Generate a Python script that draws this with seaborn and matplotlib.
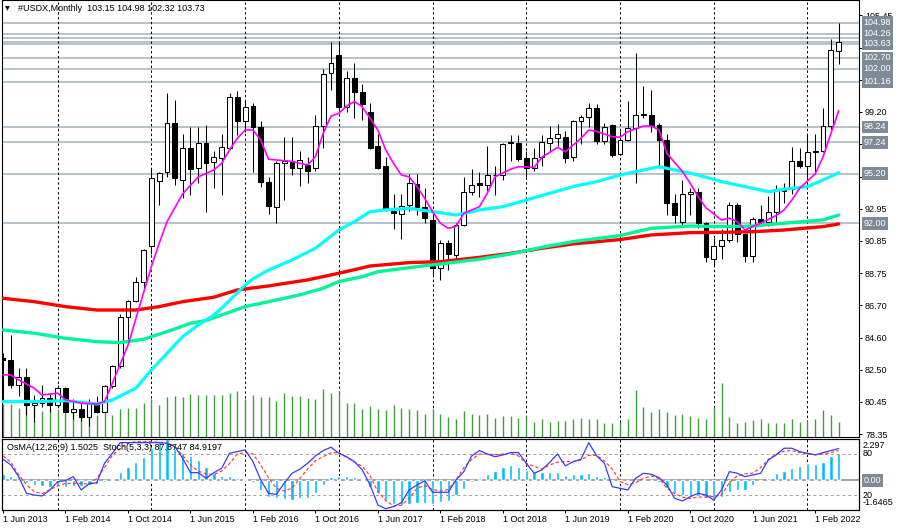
import matplotlib
matplotlib.use("Agg")
import matplotlib.pyplot as plt
import numpy as np
import seaborn as sns

# #USDX monthly bars, Jun 2013 .. May 2022 (one value per month)
opens = [83.30, 83.15, 81.50, 82.05, 80.25, 80.35, 80.70, 80.20, 81.30, 79.80,
         80.00, 79.45, 80.35, 79.80, 81.45, 82.75, 85.90, 86.95, 88.20, 90.50,
         94.75, 95.30, 98.50, 94.80, 96.90, 95.60, 97.20, 95.95, 96.20, 96.90,
         100.20, 98.60, 99.60, 98.25, 94.70, 93.05, 95.90, 96.00, 95.60, 95.75,
         95.60, 98.30, 101.70, 102.90, 99.50, 101.40, 100.50, 99.20, 97.00, 95.70,
         92.80, 92.60, 93.20, 94.55, 93.05, 92.20, 89.10, 90.70, 89.95, 91.90,
         94.00, 94.60, 94.50, 95.10, 95.10, 97.20, 97.20, 96.25, 95.60, 96.30,
         97.20, 97.50, 97.60, 96.30, 98.60, 98.90, 99.45, 97.30, 98.35, 96.50,
         97.40, 98.15, 99.00, 99.00, 98.35, 97.40, 93.30, 92.10, 93.90, 94.05,
         92.00, 89.70, 90.50, 90.90, 93.20, 91.30, 89.85, 92.30, 92.10, 92.70,
         94.10, 94.20, 96.00, 95.70, 96.60, 96.70, 98.30, 103.15]
highs = [83.60, 84.75, 82.60, 82.60, 80.90, 81.50, 81.00, 81.50, 81.40, 80.60,
         80.40, 80.60, 80.80, 81.50, 82.80, 86.10, 87.00, 88.50, 90.30, 95.50,
         95.30, 100.40, 100.00, 97.80, 98.20, 98.20, 98.35, 96.70, 97.80, 100.40,
         100.55, 99.90, 99.80, 98.60, 95.00, 96.00, 97.60, 97.60, 96.70, 96.30,
         99.00, 102.00, 103.70, 103.80, 101.85, 102.40, 101.00, 99.80, 97.80, 96.30,
         93.90, 93.90, 95.20, 95.20, 94.30, 92.70, 90.90, 90.90, 92.00, 95.00,
         95.50, 95.30, 97.00, 95.70, 97.20, 97.70, 97.70, 96.70, 96.90, 97.70,
         98.30, 98.40, 98.00, 98.70, 99.00, 99.80, 99.70, 98.50, 98.40, 98.00,
         99.90, 103.00, 100.90, 100.60, 98.50, 97.80, 93.90, 94.80, 94.30, 94.30,
         92.10, 91.05, 91.60, 93.40, 93.30, 91.40, 92.40, 93.20, 93.75, 94.50,
         94.60, 96.95, 96.90, 97.70, 97.80, 99.45, 103.95, 104.98]
lows = [80.50, 81.30, 80.80, 79.60, 79.10, 80.10, 79.80, 80.10, 79.70, 79.30,
        79.20, 78.90, 79.70, 79.70, 81.30, 82.60, 84.50, 86.90, 87.60, 90.00,
        93.20, 95.00, 94.50, 93.60, 93.80, 94.60, 92.70, 94.30, 93.80, 96.80,
        97.70, 97.90, 95.30, 94.35, 92.60, 92.00, 93.50, 95.10, 94.40, 94.60,
        95.40, 96.90, 100.60, 99.40, 99.20, 98.80, 98.70, 96.80, 95.50, 92.80,
        91.60, 91.00, 92.80, 92.50, 92.00, 88.50, 88.30, 89.00, 89.60, 91.80,
        93.80, 93.70, 94.10, 93.80, 94.80, 96.00, 96.00, 95.00, 95.40, 95.70,
        96.70, 97.00, 95.90, 96.00, 97.10, 98.20, 97.10, 97.10, 96.30, 96.40,
        97.30, 94.60, 98.80, 97.90, 95.60, 92.50, 92.00, 91.80, 92.50, 91.70,
        89.50, 89.20, 89.70, 90.80, 90.80, 89.50, 89.50, 91.80, 91.80, 92.00,
        93.30, 93.90, 95.60, 95.00, 95.20, 96.60, 98.10, 102.32]
closes = [83.15, 81.50, 82.05, 80.25, 80.35, 80.70, 80.20, 81.30, 79.80, 80.00,
          79.45, 80.35, 79.80, 81.45, 82.75, 85.90, 86.95, 88.20, 90.25, 94.90,
          95.25, 98.50, 94.90, 96.90, 95.50, 97.20, 95.90, 96.30, 96.95, 100.20,
          98.60, 99.55, 98.20, 94.70, 93.10, 95.90, 96.00, 95.60, 96.10, 95.40,
          98.30, 101.65, 102.40, 99.50, 101.40, 100.50, 99.70, 96.90, 95.60, 92.90,
          92.65, 93.10, 94.60, 93.05, 92.35, 89.10, 90.70, 90.00, 91.90, 94.00,
          94.50, 94.50, 95.10, 95.10, 97.15, 97.25, 96.15, 95.60, 96.20, 97.25,
          97.50, 97.80, 96.20, 98.60, 98.90, 99.45, 97.30, 98.25, 96.40, 97.40,
          98.15, 99.00, 99.05, 98.30, 97.40, 93.30, 92.50, 93.90, 94.00, 92.00,
          89.80, 90.50, 90.90, 93.20, 91.30, 89.90, 92.30, 92.10, 92.70, 94.20,
          94.15, 96.00, 95.70, 96.60, 96.70, 98.30, 103.20, 103.73]
# tick volume
volumes = [327, 327, 293, 343, 303, 260, 277, 277, 243, 277,
           217, 217, 217, 243, 217, 277, 293, 293, 337, 377,
           317, 403, 410, 403, 427, 417, 417, 417, 417, 443,
           460, 377, 417, 403, 403, 360, 437, 410, 410, 393,
           383, 477, 443, 450, 343, 343, 277, 310, 283, 270,
           317, 290, 277, 270, 227, 277, 227, 200, 177, 260,
           227, 217, 227, 193, 210, 210, 190, 210, 153, 177,
           153, 160, 160, 183, 193, 177, 183, 143, 143, 150,
           177, 467, 300, 250, 277, 250, 217, 227, 210, 193,
           183, 303, 537, 200, 143, 153, 167, 177, 137, 137,
           137, 177, 153, 160, 183, 270, 220, 153]

# moving averages (bar index, value)
ma_fast_bar = [0, 1, 2, 4, 5, 7, 8, 10, 12, 13, 14, 16, 17, 18, 19, 20, 21, 23, 25, 27,
               28, 29, 30, 31, 32, 33, 34, 36, 37, 39, 40, 41, 42, 43, 44, 45, 46, 47, 48, 49,
               50, 51, 52, 53, 54, 55, 56, 57, 58, 59, 61, 62, 63, 65, 66, 68, 69, 71, 72, 73,
               74, 75, 76, 78, 79, 80, 82, 83, 84, 85, 87, 88, 89, 90, 92, 93, 94, 95, 96, 97,
               99, 100, 101, 102, 104, 105, 106, 107]
ma_fast = [82.18, 82.18, 81.85, 81.32, 80.88, 81.0, 80.56, 80.35, 80.3, 80.45,
           81.64, 84.1, 85.8, 87.5, 89.2, 90.7, 92.1, 93.9, 95.0, 95.45,
           95.88, 96.74, 97.5, 98.03, 98.03, 97.39, 96.14, 96.05, 96.0, 95.77,
           96.3, 97.82, 98.94, 99.11, 99.6, 99.87, 99.54, 98.79, 98.03, 96.74,
           95.88, 95.12, 95.0, 94.37, 93.6, 92.75, 92.0, 91.67, 91.8, 92.64,
           93.07, 93.94, 95.0, 95.5, 95.66, 95.62, 96.27, 96.91, 96.63, 97.06,
           97.5, 98.03, 97.95, 97.6, 97.56, 97.93, 98.29, 98.29, 98.03, 96.52,
           95.34, 94.58, 93.72, 93.0, 92.21, 92.32, 92.1, 91.56, 91.78, 92.0,
           92.5, 92.86, 93.5, 94.26, 95.2, 96.3, 97.8, 99.28]
ma_mid_bar = [0, 4, 8, 12, 14, 17, 19, 21, 23, 25, 27, 28, 31, 32, 34, 37, 40, 43, 45, 47,
              49, 52, 55, 58, 61, 64, 67, 70, 73, 76, 79, 81, 84, 86, 89, 92, 95, 98, 100, 103,
              105, 107]
ma_mid = [80.45, 80.45, 80.51, 80.3, 80.56, 81.32, 82.5, 83.58, 84.66, 85.41,
          86.06, 86.5, 88.0, 88.4, 88.97, 89.62, 90.38, 91.56, 92.1, 92.75,
          92.86, 92.96, 92.75, 92.53, 92.86, 93.07, 93.5, 93.94, 94.37, 94.69,
          95.12, 95.34, 95.66, 95.45, 95.12, 94.69, 94.37, 94.04, 94.2, 94.37,
          94.8, 95.27]
ma_long_bar = [0, 4, 8, 12, 15, 18, 21, 24, 26, 28, 31, 34, 38, 41, 43, 46, 48, 53, 56, 61,
               65, 69, 73, 79, 83, 88, 92, 96, 100, 105, 107]
ma_long = [85.09, 84.88, 84.55, 84.33, 84.27, 84.49, 84.98, 85.52, 85.7, 86.06,
           86.6, 86.92, 87.36, 87.79, 88.22, 88.54, 88.86, 89.19, 89.36, 89.67,
           90.01, 90.44, 90.81, 91.2, 91.67, 91.82, 91.78, 91.82, 92.0, 92.21,
           92.53]
ma_slow_bar = [0, 4, 8, 12, 17, 20, 23, 27, 30, 34, 39, 43, 47, 52, 56, 61, 65, 69, 73, 79,
               83, 88, 92, 96, 100, 105, 107]
ma_slow = [87.14, 86.92, 86.6, 86.38, 86.38, 86.6, 86.92, 87.21, 87.68, 87.94,
           88.33, 88.76, 89.23, 89.45, 89.51, 89.79, 90.05, 90.38, 90.66, 90.94,
           91.24, 91.39, 91.41, 91.45, 91.56, 91.78, 91.95]

# OsMA(12,26,9) and Stochastic(5,3,3), one value per bar
osma = [0.38, 0.26, 0.19, -0.15, -0.24, -0.34, -0.38, -0.34, -0.38, -0.34,
        -0.30, -0.24, -0.19, -0.11, 0.075, 0.47, 0.75, 1.02, 1.30, 1.80,
        2.15, 2.297, 1.73, 1.54, 1.35, 1.13, 0.75, 0.41, 0.26, 0.23,
        0.13, 0.075, -0.11, -0.53, -0.90, -1.00, -1.05, -1.09, -1.00, -1.00,
        -0.68, -0.24, 0.19, 0.26, 0.26, 0.19, 0.075, -0.38, -0.71, -1.09,
        -1.32, -1.37, -1.32, -1.24, -1.24, -1.32, -1.18, -1.13, -0.81, -0.47,
        -0.11, 0.13, 0.36, 0.51, 0.75, 0.83, 0.75, 0.60, 0.47, 0.47,
        0.47, 0.47, 0.32, 0.36, 0.38, 0.41, 0.23, 0.19, 0.02, -0.06,
        0.04, 0.03, 0.075, 0.03, -0.11, -0.43, -0.71, -0.81, -0.86, -0.81,
        -1.00, -1.05, -0.90, -0.62, -0.53, -0.53, -0.24, -0.06, 0.13, 0.41,
        0.51, 0.70, 0.79, 0.98, 0.92, 1.02, 1.35, 1.5025]
stoch_main = [72.3, 64, 46.9, 22.5, 20, 18.6, 27.4, 39.5, 41, 46.9,
              27.4, 36.2, 38, 66.5, 81, 96.6, 96.6, 96.6, 96.6, 96.6,
              96.6, 95.7, 90.8, 73.8, 52.7, 52.7, 44.5, 52.7, 59.1, 81,
              83.5, 86, 68.8, 42, 22.5, 21, 37.2, 51.8, 57.7, 66.5,
              77.2, 85, 89.9, 81, 76, 68.8, 56.7, 34.7, 5.4, 0,
              3, 8.8, 27.4, 34.7, 41, 24, 24, 24, 42, 54.2,
              77.2, 85, 80, 76, 78.6, 82, 82, 66.5, 51.8, 56.7,
              67.9, 80, 62.5, 68.8, 72.3, 96.6, 77.2, 66.5, 32.2, 29.8,
              27.4, 44.5, 51.8, 50.3, 45.4, 34.7, 15.2, 11.3, 17.6, 22.5,
              20, 12.7, 27.4, 54.2, 51.8, 46.9, 49.3, 51.8, 71.3, 78.6,
              88.4, 88.4, 83.5, 81, 78.6, 82, 85, 87.87]
stoch_signal = [77, 68, 50, 35, 25, 22, 28, 33, 37, 37,
                37, 36, 44, 60, 78, 88, 96, 98, 98, 98,
                97, 95, 91, 78, 64, 55, 51, 50, 55, 66,
                80, 82, 80, 64, 45, 30, 26, 30, 44, 58,
                70, 76, 82, 82, 75, 68, 62, 48, 25, 12,
                4, 5, 15, 30, 34, 28, 26, 28, 42, 60,
                72, 80, 80, 79, 80, 81, 77, 66, 62, 58,
                64, 68, 69, 69, 71, 78, 78, 70, 58, 40,
                35, 38, 44, 48, 44, 30, 22, 17, 15, 17,
                17, 18, 20, 38, 48, 51, 52, 60, 72, 80,
                84, 85, 82, 80, 79, 80, 82, 84.92]

# horizontal levels drawn on the chart
level_labeled = [104.98, 104.26, 103.63, 102.70, 102.00, 101.16, 98.24, 97.24, 95.20, 92.00]
level_plain = [104.00, 103.73]

# price scale; the ticks under the level boxes keep their mark but no text
price_ticks = [78.35, 80.45, 82.50, 84.60, 86.70, 88.75, 90.85, 92.95, 95.00,
               97.10, 99.20, 101.25, 103.35, 105.45]
hidden_ticks = [95.00, 97.10, 101.25, 103.35]
date_tick_bars = [0, 8, 16, 24, 32, 40, 48, 56, 64, 72, 80, 88, 96, 104]
date_tick_labels = ["1 Jun 2013", "1 Feb 2014", "1 Oct 2014", "1 Jun 2015", "1 Feb 2016",
                    "1 Oct 2016", "1 Jun 2017", "1 Feb 2018", "1 Oct 2018", "1 Jun 2019",
                    "1 Feb 2020", "1 Oct 2020", "1 Jun 2021", "1 Feb 2022"]
year_start_bars = [7, 19, 31, 43, 55, 67, 79, 91, 103]

sns.set_theme(style="white")
plt.rcParams["font.family"] = ["Liberation Sans", "DejaVu Sans"]
plt.rcParams["font.size"] = 6.5

W, H = 900, 530
fig = plt.figure(figsize=(9, 5.3), dpi=100)
fig.patch.set_facecolor("white")
ax = fig.add_axes([2 / W, 1 - 437 / H, 857 / W, 437 / H])
ax2 = fig.add_axes([2 / W, 1 - 510 / H, 857 / W, 71 / H])

bars = np.arange(len(closes))
o = np.array(opens)
c = np.array(closes)
xlim = (-0.13, 109.6)

# ---- main window ----
ax.set_xlim(*xlim)
ax.set_ylim(78.16, 106.45)

ax.vlines(bars, 0, np.array(volumes) / 4370.0, transform=ax.get_xaxis_transform(),
          colors="#3f9f3f", lw=1.0, zorder=1)

for lv in level_labeled + level_plain:
    ax.axhline(lv, color="#a5b0ba", lw=1.1, zorder=0.8)
for b in year_start_bars:
    ax.axvline(b, color="black", lw=0.7, ls=(0, (2.5, 2.5)), zorder=0.9)
    ax2.axvline(b, color="black", lw=0.7, ls=(0, (2.5, 2.5)), zorder=0.9)

up = c >= o
body_low = np.minimum(o, c)
body_h = np.maximum(np.abs(c - o), 0.05)
ax.vlines(bars, lows, highs, color="black", lw=0.75, zorder=2)
ax.bar(bars[up], body_h[up], bottom=body_low[up], width=0.62, color="white",
       edgecolor="black", linewidth=0.75, zorder=3)
ax.bar(bars[~up], body_h[~up], bottom=body_low[~up], width=0.62, color="black",
       edgecolor="black", linewidth=0.75, zorder=3)

sns.lineplot(x=ma_slow_bar, y=ma_slow, ax=ax, color="#ff0000", lw=2.4, zorder=4)
sns.lineplot(x=ma_long_bar, y=ma_long, ax=ax, color="#00f59a", lw=2.4, zorder=4)
sns.lineplot(x=ma_mid_bar, y=ma_mid, ax=ax, color="#00ffff", lw=2.3, zorder=4)
sns.lineplot(x=ma_fast_bar, y=ma_fast, ax=ax, color="#ff00ff", lw=1.2, zorder=5)

ax.yaxis.tick_right()
ax.set_yticks(price_ticks)
ax.set_yticklabels(["" if t in hidden_ticks else f"{t:.2f}" for t in price_ticks])
ax.tick_params(axis="y", right=True, left=False, labelright=True, labelleft=False,
               direction="out", length=2.2, width=0.7, pad=2.2, labelsize=6.5,
               colors="black")
ax.tick_params(axis="x", bottom=False, labelbottom=False)
ax.set_xlabel("")
ax.set_ylabel("")

for lv in level_labeled:
    ax.text(1.0 + 4.5 / 857, lv, f"{lv:.2f}", transform=ax.get_yaxis_transform(),
            ha="left", va="center", fontsize=6.5, color="white", zorder=10, clip_on=False,
            bbox=dict(boxstyle="square,pad=0.2", fc="#7e8b97", ec="none"))

fig.text(5 / W, 1 - 8.5 / H, "\u25bc", fontsize=4.5, family=["DejaVu Sans"],
         va="center", ha="left", color="black")
fig.text(18 / W, 1 - 8.5 / H, "#USDX,Monthly  103.15 104.98 102.32 103.73",
         fontsize=6.5, va="center", ha="left", color="black")

# ---- OsMA / Stochastic window ----
ax2.set_xlim(*xlim)
ax2.set_ylim(-1.6465, 2.297)
ax2.bar(bars, osma, width=0.42, color="#00bfff", zorder=2)
ax2.axhline(0, color="#8c8c8c", lw=1.1, zorder=1)
ax2.set_yticks([])

ax3 = ax2.twinx()
ax3.set_ylim(-1.9, 101.9)
for lvl in (80, 20):
    ax3.axhline(lvl, color="#a0a0a0", lw=0.7, ls=(0, (3, 3)), zorder=1)
sns.lineplot(x=bars, y=stoch_signal, ax=ax3, color="#ff3030", lw=0.8,
             linestyle=(0, (3, 2)), zorder=3)
sns.lineplot(x=bars, y=stoch_main, ax=ax3, color="#3a3aff", lw=0.9, zorder=4)
ax3.set_yticks([])
ax3.set_ylabel("")
ax3.set_xlim(*xlim)

ax2.set_xticks(date_tick_bars)
ax2.set_xticklabels(date_tick_labels, ha="left")
ax2.tick_params(axis="x", bottom=True, direction="out", length=2.2, width=0.7,
                pad=1.5, labelsize=6.5, colors="black")
ax2.set_xlabel("")

for a in (ax, ax2, ax3):
    for s in a.spines.values():
        s.set_color("black")
        s.set_linewidth(0.8)

fig.text(7 / W, 1 - 447 / H, "OsMA(12,26,9) 1.5025  Stoch(5,3,3) 87.8747 84.9197",
         fontsize=6.5, va="center", ha="left", color="black")
for txt, ypx in [("2.297", 445), ("80", 454), ("20", 495), ("-1.6465", 502.7)]:
    fig.text(862.5 / W, 1 - ypx / H, txt, fontsize=6.5, va="center", ha="left",
             color="black")
fig.text(864 / W, 1 - 480.5 / H, "0.00", fontsize=6.5, va="center", ha="left",
         color="white", bbox=dict(boxstyle="square,pad=0.2", fc="#7e8b97", ec="none"))

fig.savefig("out.png", dpi=100, facecolor="white")
